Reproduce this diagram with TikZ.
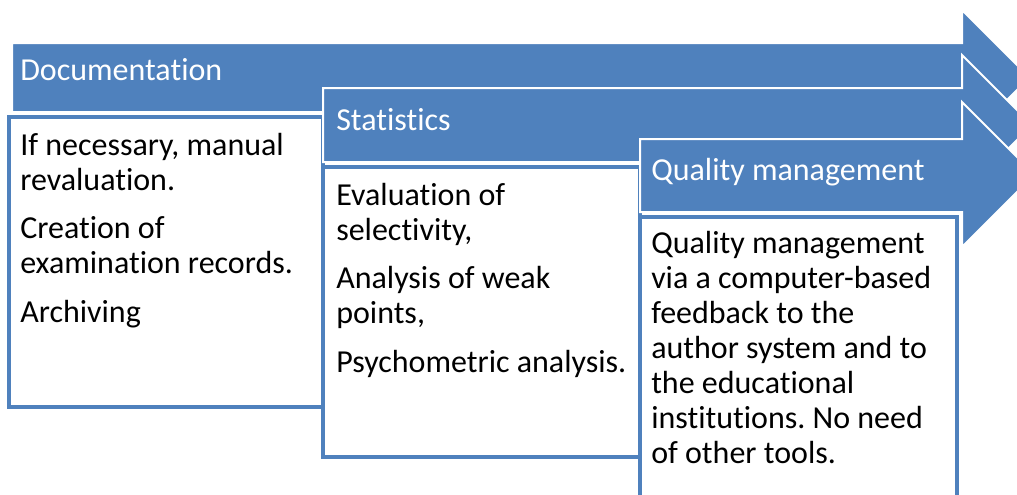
\documentclass[tikz,border=0pt]{standalone}
\usepackage{fontspec}
\setmainfont{Carlito}[Ligatures=NoCommon]
\usepackage{tikz}
\frenchspacing

\definecolor{phaseblue}{HTML}{4F81BD}

\begin{document}
\begin{tikzpicture}[x=0.75pt,y=-0.75pt]

\tikzset{phase/.style={fill=phaseblue,draw=white,line width=1.5pt,line join=miter},
         detail/.style={fill=white,draw=phaseblue,line width=3pt},
         title/.style={anchor=base west,inner sep=0pt,text=white,font=\fontsize{24}{26.25}\selectfont},
         items/.style={anchor=base west,inner sep=0pt,align=left,font=\fontsize{24}{26.25}\selectfont}}

\useasboundingbox (0,0) rectangle (1017,494);
\clip (0,0) rectangle (1017,494);

% Documentation (items placed by their last line)
\path[phase] (12,43) -- (962,43) -- (962,10) -- (1029.5,77.5) -- (962,145) -- (962,112) -- (12,112) -- cycle;
\node[title] (documentation) at (20,80) {Documentation};
\path[detail] (9,117) rectangle (323,407);
\node[items] (docitems) at (20,322) {If necessary, manual\\ revaluation.\\[10pt]
  Creation of\\ examination records.\\[10pt] Archiving};

% Statistics
\path[phase] (323,88) -- (962,88) -- (962,55) -- (1032,125) -- (962,195) -- (962,162) -- (323,162) -- cycle;
\node[title] (statistics) at (336,130) {Statistics};
\path[detail] (323,167) rectangle (640,457);
\node[items] (statitems) at (336,372) {Evaluation of\\ selectivity,\\[10pt]
  Analysis of weak\\ points,\\[10pt] Psychometric analysis.};

% Quality management
\path[phase] (640,139) -- (962,139) -- (962,102) -- (1034.5,174.5) -- (962,247) -- (962,212) -- (640,212) -- cycle;
\node[title] (quality) at (651,180) {Quality management};
\path[detail] (640,217) rectangle (957,530);
\node[items] (qualitems) at (651,463) {Quality management\\ via a computer-based\\
  feedback to the\\ author system and to\\ the educational\\ institutions. No need\\ of other tools.};

\end{tikzpicture}
\end{document}
